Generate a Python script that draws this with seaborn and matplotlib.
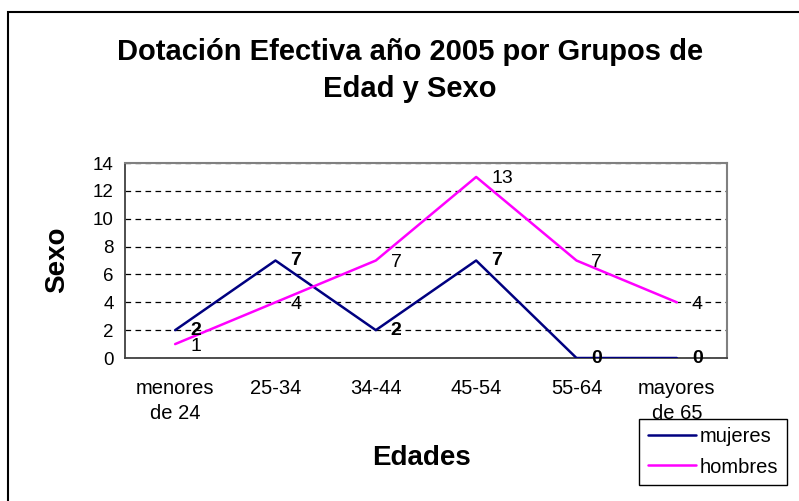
import seaborn as sns
import matplotlib.pyplot as plt
import matplotlib.patches as mpatches
import pandas as pd

# data
edades = ['menores\nde 24', '25-34', '34-44', '45-54', '55-64', 'mayores\nde 65']
mujeres = [2, 7, 2, 7, 0, 0]
hombres = [1, 4, 7, 13, 7, 4]

df = pd.DataFrame({
    'Edades': list(range(len(edades))) * 2,
    'valor': mujeres + hombres,
    'serie': ['mujeres'] * len(edades) + ['hombres'] * len(edades),
})

sns.set_style('white')
plt.rcParams['font.family'] = ['Liberation Sans', 'DejaVu Sans']
plt.rcParams['text.color'] = 'black'
plt.rcParams['xtick.color'] = 'black'
plt.rcParams['ytick.color'] = 'black'

fig = plt.figure(figsize=(7.99, 5.01), dpi=100)
ax = fig.add_axes([0.1564, 0.2854, 0.7535, 0.3892])

colores = {'mujeres': '#000080', 'hombres': '#FF00FF'}
sns.lineplot(data=df, x='Edades', y='valor', hue='serie', palette=colores,
             linewidth=1.8, ax=ax, legend=False, zorder=3)

# data labels
for i, v in enumerate(mujeres):
    ax.annotate(str(v), (i, v), xytext=(15, 0), textcoords='offset pixels',
                ha='left', va='center', fontsize=14, fontweight='bold', zorder=4)
for i, v in enumerate(hombres):
    ax.annotate(str(v), (i, v), xytext=(15, -2), textcoords='offset pixels',
                ha='left', va='center', fontsize=14, zorder=4)

ax.set_xlim(-0.5, len(edades) - 0.5)
ax.set_ylim(0, 14)
ax.set_yticks(range(0, 15, 2))
ax.set_xticks(range(len(edades)))
ax.set_xticklabels(edades, fontsize=14.5, linespacing=1.4)
ax.set_xticks([i - 0.5 for i in range(len(edades) + 1)], minor=True)
ax.tick_params(axis='x', which='major', length=0, pad=15)
ax.tick_params(axis='x', which='minor', length=5, width=1, direction='out', color='#404040')
ax.tick_params(axis='y', length=5, width=1, direction='out', color='#404040', labelsize=13.5, pad=3)
ax.set_xlabel('')
ax.set_ylabel('')

ax.yaxis.grid(True, color='black', linestyle=(0, (4.5, 3.5)), linewidth=0.9)
ax.set_axisbelow(True)
for s in ['left', 'bottom']:
    ax.spines[s].set_color('#404040')
    ax.spines[s].set_linewidth(1.3)
for s in ['top', 'right']:
    ax.spines[s].set_color('#808080')
    ax.spines[s].set_linewidth(1.5)

fig.text(0.513, 0.86, 'Dotación Efectiva año 2005 por Grupos de\nEdad y Sexo',
         ha='center', va='center', fontsize=21, fontweight='bold', linespacing=1.4)
fig.text(0.527, 0.086, 'Edades', ha='center', va='center', fontsize=20, fontweight='bold')
fig.text(0.071, 0.481, 'Sexo', ha='center', va='center', rotation=90,
         fontsize=20, fontweight='bold')

handles = [plt.Line2D([], [], color=colores['mujeres'], lw=1.8),
           plt.Line2D([], [], color=colores['hombres'], lw=1.8)]
leg = fig.legend(handles, ['mujeres', 'hombres'], loc='lower left',
                 bbox_to_anchor=(0.80, 0.032), bbox_transform=fig.transFigure,
                 fontsize=14.5, frameon=True, fancybox=False, framealpha=1,
                 edgecolor='black', handlelength=2.4, handletextpad=0.2,
                 borderpad=0.42, labelspacing=0.55, borderaxespad=0)
leg.get_frame().set_linewidth(1)
leg.set_zorder(10)

# outer chart border
fig.patches.append(mpatches.Rectangle((8 / 799, -0.05), 1.1, 1 - 12 / 501 + 0.05,
                                      transform=fig.transFigure, fill=False,
                                      edgecolor='black', linewidth=1.5))

fig.savefig('out.png', dpi=100)
